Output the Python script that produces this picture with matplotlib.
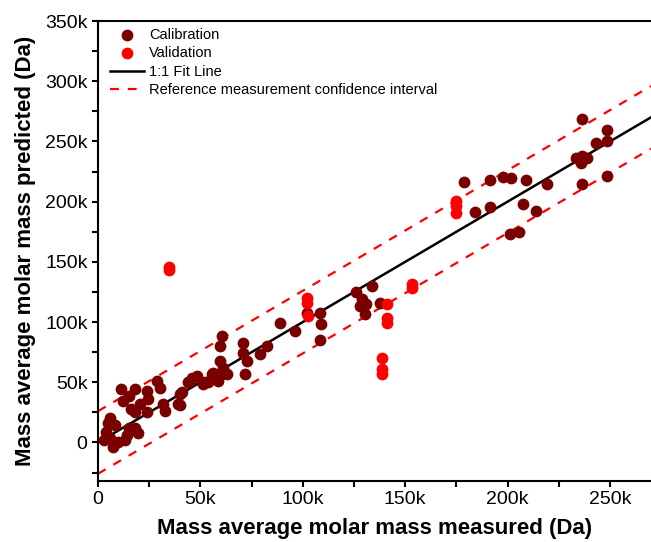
import matplotlib
matplotlib.use('Agg')
import matplotlib.pyplot as plt
from matplotlib.ticker import FuncFormatter, MultipleLocator
import numpy as np

plt.rcParams['font.family'] = ['Liberation Sans', 'DejaVu Sans']

# Calibration set (measured, predicted), in thousands of Da
cal_measured = [3.7, 5.1, 6.1, 6.1, 8.5, 8.5, 10.0, 12.0, 11.0, 14.4, 14.9, 14.9, 15.9,
                18.3, 18.3, 18.3, 19.3, 20.7, 24.1, 24.1, 24.6, 29.0, 30.5, 31.5, 32.9,
                39.3, 40.2, 40.2, 43.7, 45.1, 46.1, 48.5, 51.5, 52.4, 53.9, 55.9, 56.3,
                58.8, 60.7, 63.2, 61.2, 59.8, 59.8, 60.7, 71.0, 71.0, 72.0, 72.9, 79.3,
                82.7, 89.0, 96.3, 41.2, 2.7, 7.1, 13.4,
                102.2, 108.5, 109.0, 108.5, 126.1, 133.9, 129.0, 128.0, 131.0, 130.5, 137.8,
                178.8, 191.5, 197.8, 201.7, 209.0, 219.3, 184.1, 191.5, 207.6, 213.9, 201.2,
                205.6, 236.3, 248.5, 248.5, 243.2, 233.4, 236.3, 238.8, 235.9, 248.5, 236.3]
cal_predicted = [8.3, 15.8, 20.7, 4.1, 14.1, -0.8, 0.0, 34.8, 44.8, 5.8, 39.0, 11.6, 28.2,
                 44.8, 24.9, 12.4, 7.5, 32.3, 43.1, 24.9, 36.5, 51.4, 45.6, 32.3, 26.5,
                 32.3, 40.6, 30.7, 49.8, 51.4, 53.9, 55.6, 48.9, 49.8, 49.8, 57.2, 58.1,
                 51.4, 57.2, 57.2, 62.2, 68.0, 80.4, 88.7, 82.9, 74.6, 57.2, 68.0, 73.8,
                 80.4, 99.5, 92.9, 41.5, 1.7, -4.1, 1.7,
                 107.8, 107.8, 98.7, 85.4, 125.2, 130.2, 119.4, 113.6, 115.3, 107.0, 116.1,
                 216.4, 218.1, 220.6, 219.8, 218.1, 214.8, 191.6, 195.7, 198.2, 192.4, 173.3,
                 175.0, 268.7, 259.6, 250.4, 248.8, 236.3, 238.0, 236.3, 232.2, 221.4, 214.8]

# Validation set
val_measured = [34.9, 34.9, 102.2, 102.2, 102.7, 141.2, 141.2, 141.2, 138.8, 138.8, 138.8,
                153.4, 153.4, 175.0, 175.0, 175.0]
val_predicted = [146.0, 143.5, 120.2, 116.1, 105.3, 115.3, 103.7, 99.5, 70.5, 61.4, 57.2,
                 131.9, 128.5, 200.7, 196.5, 190.7]

fit_range = [0, 270]      # 1:1 line span
ci_offset = 26            # reference measurement confidence half-width

k = 1000.0
cal_x = np.array(cal_measured) * k
cal_y = np.array(cal_predicted) * k
val_x = np.array(val_measured) * k
val_y = np.array(val_predicted) * k
fx = np.array(fit_range) * k

fig = plt.figure(figsize=(6.51, 5.42), dpi=100)
ax = fig.add_axes([98 / 651, 61 / 542, 553 / 651, 460 / 542])

ax.scatter(cal_x, cal_y, s=72, color='#7a0000', linewidths=0, label='Calibration', zorder=3)
ax.scatter(val_x, val_y, s=72, color='#ff0000', linewidths=0, label='Validation', zorder=4)
ax.plot(fx, fx, color='black', lw=1.8, label='1:1 Fit Line', zorder=2)
ax.plot(fx, fx + ci_offset * k, color='#ff0000', lw=1.6, dashes=(4, 4),
        label='Reference measurement confidence interval', zorder=2)
ax.plot(fx, fx - ci_offset * k, color='#ff0000', lw=1.6, dashes=(4, 4), zorder=2)

ax.set_xlim(0, 270e3)
ax.set_ylim(-32e3, 350e3)

fmt = FuncFormatter(lambda v, p: '0' if v == 0 else f'{int(round(v / 1000))}k')
ax.xaxis.set_major_locator(MultipleLocator(50e3))
ax.xaxis.set_minor_locator(MultipleLocator(25e3))
ax.yaxis.set_major_locator(MultipleLocator(50e3))
ax.yaxis.set_minor_locator(MultipleLocator(25e3))
ax.xaxis.set_major_formatter(fmt)
ax.yaxis.set_major_formatter(fmt)

ax.tick_params(which='both', direction='out', width=1.5, labelsize=14, pad=3)
ax.tick_params(which='major', length=4.5)
ax.tick_params(which='minor', length=4)
ax.tick_params(top=False, right=False)

for side in ['left', 'bottom', 'top']:
    ax.spines[side].set_linewidth(1.5)
ax.spines['right'].set_visible(False)

ax.set_xlabel('Mass average molar mass measured (Da)', fontsize=16, fontweight='bold')
ax.set_ylabel('Mass average molar mass predicted (Da)', fontsize=16, fontweight='bold')
ax.xaxis.set_label_coords(0.5, -0.08)
ax.yaxis.set_label_coords(-0.112, 0.5)

ax.legend(loc='upper left', bbox_to_anchor=(12 / 553, 0.985), frameon=False,
          fontsize=10.5, borderaxespad=0, borderpad=0, handlelength=2.3,
          handletextpad=0.4, labelspacing=0.3)

fig.savefig('out.png', dpi=100)
